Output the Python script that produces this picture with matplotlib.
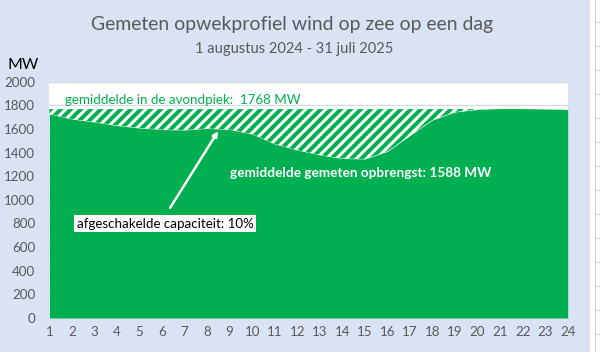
import numpy as np
import matplotlib.pyplot as plt
from matplotlib.patches import Rectangle

# gegevens
uren = list(range(1, 25))
opbrengst = [1727, 1684, 1659, 1629, 1608, 1595, 1591, 1604, 1595, 1557, 1473, 1422,
             1380, 1350, 1346, 1410, 1545, 1676, 1744, 1765, 1773, 1773, 1769, 1765]
avondpiek = 1768
gemiddeld = 1588
afgeschakeld = 10
y_ticks = list(range(0, 2001, 200))

titel = 'Gemeten opwekprofiel wind op zee op een dag'
subtitel = '1 augustus 2024 - 31 juli 2025'

groen = '#00B050'
achtergrond = '#DAE3F3'
grijs = '#595959'

plt.rcParams['font.family'] = ['Lato', 'DejaVu Sans']
plt.rcParams['hatch.linewidth'] = 2.4

fig = plt.figure(figsize=(5, 352 / 120), dpi=120, facecolor=achtergrond)
ax = fig.add_axes([49.3 / 600, 1 - 318 / 352, (567.7 - 49.3) / 600, (318 - 81.7) / 352])
ax.set_facecolor('white')

x = np.array(uren)
y = np.array(opbrengst)

# groen vlak + gearceerde afgeschakelde capaciteit
ax.fill_between(x, 0, y, color=groen, lw=0, zorder=2)
ax.fill_between(x, y, avondpiek, where=y < avondpiek, interpolate=True,
                facecolor='white', edgecolor=groen, hatch='////', lw=0, zorder=2)

ax.set_xlim(1, 24)
ax.set_ylim(0, 2000)
ax.set_xticks(uren)
ax.set_yticks(y_ticks)
ax.yaxis.grid(True, color='#D9D9D9', lw=0.8)
ax.set_axisbelow(True)
for s in ax.spines.values():
    s.set_visible(False)
ax.tick_params(axis='both', length=0, labelsize=8, labelcolor=grijs)
ax.tick_params(axis='y', pad=8.4)
ax.tick_params(axis='x', pad=5)

# teksten in de grafiek
ax.text(1.70, 1845, f'gemiddelde in de avondpiek:  {avondpiek} MW', color=groen,
        fontsize=8, va='center', ha='left', zorder=3)
ax.text(9.0, 1230, f'gemiddelde gemeten opbrengst: {gemiddeld} MW', color='white',
        fontsize=8.2, fontweight='bold', va='center', ha='left', zorder=3)
ax.annotate('', xy=(8.57, 1605), xytext=(6.28, 908),
            arrowprops=dict(arrowstyle='-|>', color='white', lw=1.5, mutation_scale=6),
            zorder=3)
ax.text(2.23, 796, f'afgeschakelde capaciteit: {afgeschakeld}%', color='black',
        fontsize=8, va='center', ha='left', zorder=4,
        bbox=dict(facecolor='white', edgecolor='none', pad=1.5))

# titels
fig.text(0.486, 0.929, titel, ha='center', va='center', fontsize=11.6, color=grijs)
fig.text(0.49, 0.862, subtitel, ha='center', va='center', fontsize=8.8, color=grijs)
fig.text(0.038, 0.815, 'MW', ha='center', va='center', fontsize=9.5, color='black')

# rand van het werkblad rechts
fig.patches.append(Rectangle((590 / 600, 0), 10 / 600, 1, transform=fig.transFigure,
                             facecolor='white', edgecolor='none'))
fig.add_artist(plt.Line2D([595 / 600, 595 / 600], [0, 1], transform=fig.transFigure,
                          color='#D0D0D0', lw=0.6))
for yp in np.arange(22, 352, 24):
    fig.add_artist(plt.Line2D([595 / 600, 1], [1 - yp / 352] * 2, transform=fig.transFigure,
                              color='#D0D0D0', lw=0.6))

fig.savefig('out.png', dpi=120, facecolor=achtergrond)
